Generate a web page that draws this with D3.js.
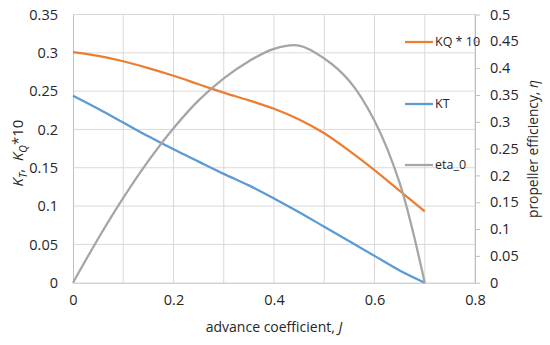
<!DOCTYPE html>
<html lang="en">
<head>
<meta charset="UTF-8" />
<title>Propeller open water curves</title>
<script src="https://d3js.org/d3.v7.min.js"></script>
<style>
  body, html { margin: 0; padding: 0; background: #fff; }
  svg text { font-family: "Open Sans", "Liberation Sans", sans-serif; fill: #262626; }
</style>
</head>
<body>
<svg id="chart" width="550" height="345"></svg>
<script>
// advance coefficient J and the three curves
const J      = [0, 0.05, 0.1, 0.15, 0.2, 0.25, 0.3, 0.35, 0.4, 0.45, 0.5, 0.55, 0.6, 0.65, 0.7];
const KT     = [0.244, 0.227, 0.209, 0.191, 0.174, 0.158, 0.142, 0.127, 0.110, 0.092, 0.073, 0.054, 0.035, 0.016, 0];
const KQ10   = [0.301, 0.296, 0.289, 0.280, 0.270, 0.259, 0.248, 0.238, 0.227, 0.213, 0.195, 0.172, 0.147, 0.120, 0.093];
const eta0   = [0, 0.082, 0.158, 0.227, 0.288, 0.340, 0.381, 0.413, 0.436, 0.442, 0.418, 0.376, 0.302, 0.186, 0];

const xTicks  = [0, 0.2, 0.4, 0.6, 0.8];
const yTicks  = [0, 0.05, 0.1, 0.15, 0.2, 0.25, 0.3, 0.35];
const y2Ticks = [0, 0.05, 0.1, 0.15, 0.2, 0.25, 0.3, 0.35, 0.4, 0.45, 0.5];
const xGrid   = [0.1, 0.2, 0.3, 0.4, 0.5, 0.6, 0.7, 0.8];

const series = [
  { name: "KQ * 10", values: KQ10, axis: "left",  color: "#ED7D31", legendY: 42 },
  { name: "KT",      values: KT,   axis: "left",  color: "#5B9BD5", legendY: 104 },
  { name: "eta_0",   values: eta0, axis: "right", color: "#A5A5A5", legendY: 165 }
];

const svg = d3.select("#chart");
const m = { left: 73, right: 475, top: 14.5, bottom: 282.7 };

const x  = d3.scaleLinear().domain([0, 0.8]).range([m.left, m.right]);
const y  = d3.scaleLinear().domain([0, 0.35]).range([m.bottom, m.top]);
const y2 = d3.scaleLinear().domain([0, 0.5]).range([m.bottom, m.top]);

// gridlines
const grid = svg.append("g").attr("stroke", "#D9D9D9").attr("stroke-width", 1);
grid.selectAll("line.h").data(yTicks.slice(1)).join("line")
  .attr("x1", m.left).attr("x2", m.right)
  .attr("y1", d => y(d)).attr("y2", d => y(d));
grid.selectAll("line.v").data(xGrid).join("line")
  .attr("y1", m.top).attr("y2", m.bottom)
  .attr("x1", d => x(d)).attr("x2", d => x(d));

// axes
const fmt = d => String(+d.toFixed(2));
const tickFont = 14.5;
svg.append("g").attr("transform", `translate(0,${m.bottom})`)
  .call(d3.axisBottom(x).tickValues(xTicks).tickSize(0).tickPadding(12).tickFormat(fmt))
  .call(g => g.select(".domain").attr("stroke", "#BFBFBF"))
  .call(g => g.selectAll("text").attr("font-size", tickFont));

svg.append("g").attr("transform", `translate(${m.left},0)`)
  .call(d3.axisLeft(y).tickValues(yTicks).tickSize(0).tickPadding(15).tickFormat(fmt))
  .call(g => g.select(".domain").attr("stroke", "#BFBFBF"))
  .call(g => g.selectAll("text").attr("font-size", tickFont));

svg.append("g").attr("transform", `translate(${m.right},0)`)
  .call(d3.axisRight(y2).tickValues(y2Ticks).tickSize(5).tickSizeOuter(0).tickPadding(10).tickFormat(fmt))
  .call(g => g.select(".domain").attr("stroke", "#BFBFBF"))
  .call(g => g.selectAll(".tick line").attr("stroke", "#BFBFBF"))
  .call(g => g.selectAll("text").attr("font-size", tickFont));

// curves
series.forEach(s => {
  const ys = s.axis === "left" ? y : y2;
  const line = d3.line().x((d, i) => x(J[i])).y(d => ys(d)).curve(d3.curveCatmullRom.alpha(0.5));
  svg.append("path").datum(s.values)
    .attr("fill", "none").attr("stroke", s.color).attr("stroke-width", 2.25)
    .attr("d", line);
});

// legend
const leg = svg.append("g");
series.forEach(s => {
  leg.append("line").attr("x1", 405).attr("x2", 433)
    .attr("y1", s.legendY).attr("y2", s.legendY)
    .attr("stroke", s.color).attr("stroke-width", 2.25);
  leg.append("text").attr("x", 435).attr("y", s.legendY).attr("dy", "0.35em")
    .attr("font-size", 12.5).attr("fill", "#595959").text(s.name);
});

// axis titles
svg.append("text").attr("x", x(0.4)).attr("y", 332).attr("text-anchor", "middle")
  .attr("font-size", 14)
  .call(t => {
    t.append("tspan").text("advance coefficient, ");
    t.append("tspan").attr("font-style", "italic").text("J");
  });

const ly = svg.append("text").attr("transform", "translate(23,153) rotate(-90)")
  .attr("text-anchor", "middle").attr("font-size", 15);
ly.append("tspan").attr("font-style", "italic").text("K");
ly.append("tspan").attr("font-size", 10.5).attr("dy", 4).attr("font-style", "italic").text("T");
ly.append("tspan").attr("dy", -4).text(",\u00A0\u00A0");
ly.append("tspan").attr("font-style", "italic").text("K");
ly.append("tspan").attr("font-size", 10.5).attr("dy", 4).attr("font-style", "italic").text("Q");
ly.append("tspan").attr("dy", -4).text("*10");

const ry = svg.append("text").attr("transform", "translate(538,149) rotate(-90)")
  .attr("text-anchor", "middle").attr("font-size", 13.8);
ry.append("tspan").text("propeller efficiency, ");
ry.append("tspan").attr("font-style", "italic").text("η");
</script>
</body>
</html>
